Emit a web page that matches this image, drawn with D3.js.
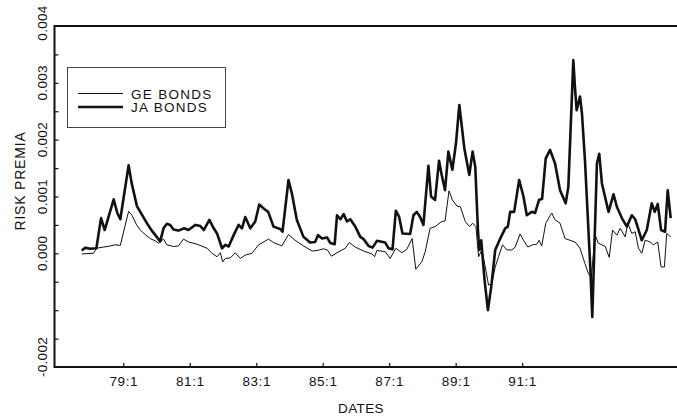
<!DOCTYPE html>
<html>
<head>
<meta charset="utf-8">
<script src="https://cdn.jsdelivr.net/npm/d3@7"></script>
<style>
  body { margin: 0; background: #fff; }
  svg { display: block; font-family: "Liberation Sans", Arial, sans-serif; }
</style>
</head>
<body>
<script>

// [date (year + fraction), risk premium]
var geBonds = [[1977.75,-0.00001],[1978.10,0.00000],[1978.20,0.00009],[1978.40,0.00011],[1978.61,0.00013],[1978.75,0.00015],[1978.91,0.00014],[1979.16,0.00074],[1979.26,0.00067],[1979.40,0.00050],[1979.51,0.00041],[1979.66,0.00033],[1979.81,0.00026],[1979.96,0.00022],[1980.06,0.00018],[1980.21,0.00025],[1980.31,0.00015],[1980.51,0.00012],[1980.66,0.00013],[1980.81,0.00025],[1980.96,0.00020],[1981.22,0.00016],[1981.52,0.00009],[1981.67,0.00000],[1981.82,-0.00006],[1981.92,0.00001],[1981.99,-0.00015],[1982.07,-0.00009],[1982.22,-0.00008],[1982.37,0.00001],[1982.52,-0.00009],[1982.67,-0.00003],[1982.87,0.00000],[1983.07,0.00015],[1983.37,0.00025],[1983.52,0.00019],[1983.77,0.00013],[1983.97,0.00033],[1984.17,0.00023],[1984.42,0.00013],[1984.68,0.00004],[1984.83,0.00005],[1985.02,0.00008],[1985.14,0.00006],[1985.26,-0.00005],[1985.43,0.00001],[1985.68,0.00009],[1985.80,0.00019],[1985.98,0.00011],[1986.23,0.00004],[1986.48,-0.00001],[1986.56,-0.00006],[1986.63,0.00005],[1986.88,0.00003],[1987.03,-0.00009],[1987.20,0.00009],[1987.38,0.00001],[1987.53,0.00007],[1987.69,0.00026],[1987.80,-0.00028],[1987.98,-0.00015],[1988.08,0.00002],[1988.23,0.00044],[1988.38,0.00047],[1988.58,0.00056],[1988.68,0.00057],[1988.80,0.00110],[1988.90,0.00094],[1989.04,0.00083],[1989.14,0.00082],[1989.29,0.00056],[1989.42,0.00047],[1989.51,0.00053],[1989.61,0.00047],[1989.69,-0.00006],[1989.79,0.00006],[1989.89,-0.00024],[1989.99,-0.00056],[1990.09,-0.00053],[1990.19,-0.00024],[1990.29,-0.00006],[1990.41,0.00015],[1990.54,0.00006],[1990.69,0.00006],[1990.79,0.00011],[1990.94,0.00034],[1991.05,0.00022],[1991.17,0.00011],[1991.31,0.00015],[1991.44,0.00016],[1991.51,0.00023],[1991.59,0.00013],[1991.71,0.00053],[1991.89,0.00071],[1991.99,0.00059],[1992.14,0.00053],[1992.29,0.00026],[1992.44,0.00023],[1992.59,0.00020],[1992.74,0.00009],[1992.89,-0.00018],[1992.99,-0.00035],[1993.08,-0.00042],[1993.20,0.00032],[1993.29,0.00018],[1993.50,0.00012],[1993.62,-0.00007],[1993.72,0.00041],[1993.85,0.00032],[1993.95,0.00044],[1994.10,0.00029],[1994.18,0.00053],[1994.30,0.00035],[1994.40,0.00038],[1994.50,0.00009],[1994.60,0.00000],[1994.70,0.00023],[1994.85,0.00020],[1994.95,0.00015],[1995.08,0.00020],[1995.18,-0.00024],[1995.28,-0.00024],[1995.35,0.00035],[1995.47,0.00029]];

var jaBonds = [[1977.75,0.00005],[1977.86,0.00010],[1978.01,0.00008],[1978.19,0.00009],[1978.33,0.00062],[1978.44,0.00041],[1978.71,0.00095],[1978.82,0.00071],[1978.91,0.00060],[1979.16,0.00155],[1979.25,0.00124],[1979.41,0.00083],[1979.51,0.00073],[1979.71,0.00053],[1979.87,0.00039],[1980.11,0.00021],[1980.21,0.00044],[1980.31,0.00052],[1980.41,0.00050],[1980.51,0.00042],[1980.66,0.00040],[1980.83,0.00044],[1980.96,0.00041],[1981.17,0.00050],[1981.32,0.00048],[1981.42,0.00041],[1981.59,0.00059],[1981.72,0.00044],[1981.82,0.00035],[1981.97,0.00009],[1982.07,0.00015],[1982.17,0.00012],[1982.32,0.00032],[1982.47,0.00050],[1982.57,0.00044],[1982.67,0.00064],[1982.82,0.00044],[1982.97,0.00056],[1983.09,0.00086],[1983.24,0.00078],[1983.36,0.00073],[1983.52,0.00047],[1983.72,0.00043],[1983.79,0.00038],[1983.97,0.00129],[1984.07,0.00106],[1984.22,0.00059],[1984.42,0.00029],[1984.62,0.00019],[1984.77,0.00020],[1984.86,0.00032],[1984.98,0.00026],[1985.13,0.00028],[1985.23,0.00018],[1985.36,0.00016],[1985.43,0.00067],[1985.53,0.00060],[1985.63,0.00069],[1985.73,0.00056],[1985.83,0.00060],[1985.98,0.00047],[1986.13,0.00029],[1986.23,0.00025],[1986.38,0.00013],[1986.50,0.00010],[1986.63,0.00022],[1986.88,0.00019],[1986.98,0.00009],[1987.10,0.00007],[1987.20,0.00075],[1987.30,0.00064],[1987.40,0.00035],[1987.63,0.00034],[1987.73,0.00067],[1987.83,0.00073],[1987.93,0.00064],[1988.03,0.00050],[1988.18,0.00154],[1988.26,0.00100],[1988.38,0.00094],[1988.50,0.00163],[1988.58,0.00138],[1988.68,0.00111],[1988.78,0.00179],[1988.90,0.00147],[1989.01,0.00194],[1989.11,0.00261],[1989.26,0.00185],[1989.41,0.00138],[1989.51,0.00179],[1989.59,0.00152],[1989.67,0.00041],[1989.71,0.00006],[1989.77,0.00023],[1989.81,-0.00006],[1989.87,-0.00047],[1989.97,-0.00100],[1990.07,-0.00059],[1990.19,0.00006],[1990.34,0.00026],[1990.49,0.00044],[1990.57,0.00047],[1990.64,0.00073],[1990.76,0.00073],[1990.91,0.00129],[1991.04,0.00100],[1991.14,0.00067],[1991.29,0.00073],[1991.39,0.00071],[1991.51,0.00094],[1991.60,0.00096],[1991.71,0.00167],[1991.84,0.00182],[1991.99,0.00158],[1992.14,0.00111],[1992.31,0.00088],[1992.39,0.00117],[1992.54,0.00340],[1992.59,0.00291],[1992.64,0.00252],[1992.74,0.00276],[1992.80,0.00246],[1992.89,0.00164],[1993.05,-0.00024],[1993.11,-0.00112],[1993.25,0.00158],[1993.32,0.00175],[1993.40,0.00123],[1993.60,0.00073],[1993.75,0.00104],[1993.85,0.00082],[1994.00,0.00062],[1994.15,0.00047],[1994.30,0.00067],[1994.40,0.00060],[1994.60,0.00023],[1994.75,0.00041],[1994.90,0.00088],[1994.99,0.00073],[1995.08,0.00087],[1995.18,0.00041],[1995.30,0.00038],[1995.38,0.00111],[1995.42,0.00089],[1995.47,0.00062]];

var yTickMarks = [-0.0015, -0.001, -0.0005, 0, 0.0005, 0.001, 0.0015, 0.002, 0.0025, 0.003, 0.0035];
var yLabelValues = [0.004, 0.003, 0.002, 0.001, 0, -0.002];
var yLabelText = ['0.004', '0.003', '0.002', '0.001', '0.000', '-0.002'];
var xTickValues = [1979, 1981, 1983, 1985, 1987, 1989, 1991];
var xTickText = ['79:1', '81:1', '83:1', '85:1', '87:1', '89:1', '91:1'];
var seriesNames = ['GE BONDS', 'JA BONDS'];

var width = 677, height = 420;
var ink = '#111';

var svg = d3.select('body').append('svg')
    .attr('width', width)
    .attr('height', height)

var x = d3.scaleLinear().domain([1976.93, 1995.9]).range([54.5, 685])
var y = d3.scaleLinear().domain([-0.002, 0.004]).range([367, 26])

// frame (right edge falls outside the picture)
svg.append('rect')
    .attr('x', x.range()[0]).attr('y', y(0.004))
    .attr('width', x.range()[1] - x.range()[0])
    .attr('height', y(-0.002) - y(0.004))
    .attr('fill', 'none')
    .attr('stroke', ink)
    .attr('stroke-width', 2)

// inward ticks
var yAxis = svg.append('g')
    .attr('transform', 'translate(' + x.range()[0] + ',0)')
    .call(d3.axisLeft(y).tickValues(yTickMarks).tickSize(-4).tickFormat(''))
yAxis.select('.domain').remove()
yAxis.selectAll('line').attr('stroke', ink).attr('stroke-width', 1.2)

var xAxis = svg.append('g')
    .attr('transform', 'translate(0,' + y(-0.002) + ')')
    .call(d3.axisBottom(x).tickValues(xTickValues).tickSize(-4).tickPadding(9)
        .tickFormat(function (d, i) { return xTickText[i] }))
xAxis.select('.domain').remove()
xAxis.selectAll('line').attr('stroke', ink).attr('stroke-width', 1.2)
xAxis.selectAll('text')
    .attr('fill', ink)
    .style('font-family', '"Liberation Sans", Arial, sans-serif')
    .style('font-size', '13.5px')
    .style('letter-spacing', '0.6px')

// y labels, rotated
svg.append('g').selectAll('text')
    .data(yLabelValues)
    .enter().append('text')
    .attr('transform', function (d, i) {
        var py = y(d) - (i === yLabelValues.length - 1 ? 10 : 0) - (i === 0 ? 3 : 0)
        return 'translate(46.5,' + py + ') rotate(-90)'
    })
    .attr('text-anchor', 'middle')
    .attr('fill', ink)
    .style('font-size', '13.5px')
    .style('letter-spacing', '0.3px')
    .text(function (d, i) { return yLabelText[i] })

svg.append('text')
    .attr('transform', 'translate(25,181) rotate(-90)')
    .attr('text-anchor', 'middle')
    .attr('fill', ink)
    .style('font-size', '14px')
    .style('letter-spacing', '0.8px')
    .text('RISK PREMIA')

svg.append('text')
    .attr('x', 361).attr('y', 413)
    .attr('text-anchor', 'middle')
    .attr('fill', ink)
    .style('font-size', '13.5px')
    .style('letter-spacing', '0.4px')
    .text('DATES')

var line = d3.line()
    .x(function (d) { return x(d[0]) })
    .y(function (d) { return y(d[1]) })

svg.append('path')
    .datum(geBonds)
    .attr('d', line)
    .attr('fill', 'none')
    .attr('stroke', ink)
    .attr('stroke-width', 1)
    .attr('stroke-linejoin', 'round')

svg.append('path')
    .datum(jaBonds)
    .attr('d', line)
    .attr('fill', 'none')
    .attr('stroke', ink)
    .attr('stroke-width', 2.6)
    .attr('stroke-linejoin', 'round')

// legend
var legend = svg.append('g')
legend.append('rect')
    .attr('x', 67.5).attr('y', 67.5)
    .attr('width', 158).attr('height', 60)
    .attr('fill', '#fff')
    .attr('stroke', '#444')
    .attr('stroke-width', 1)

var rows = legend.selectAll('g.row')
    .data(seriesNames)
    .enter().append('g')
    .attr('class', 'row')
    .attr('transform', function (d, i) { return 'translate(0,' + (93.5 + i * 13.5) + ')' })

rows.append('line')
    .attr('x1', 78).attr('x2', 123)
    .attr('stroke', ink)
    .attr('stroke-width', function (d, i) { return i ? 2.6 : 1 })

rows.append('text')
    .attr('x', 131).attr('y', 5)
    .attr('fill', ink)
    .style('font-size', '13.5px')
    .style('letter-spacing', '1.3px')
    .text(function (d) { return d })

</script>
</body>
</html>
